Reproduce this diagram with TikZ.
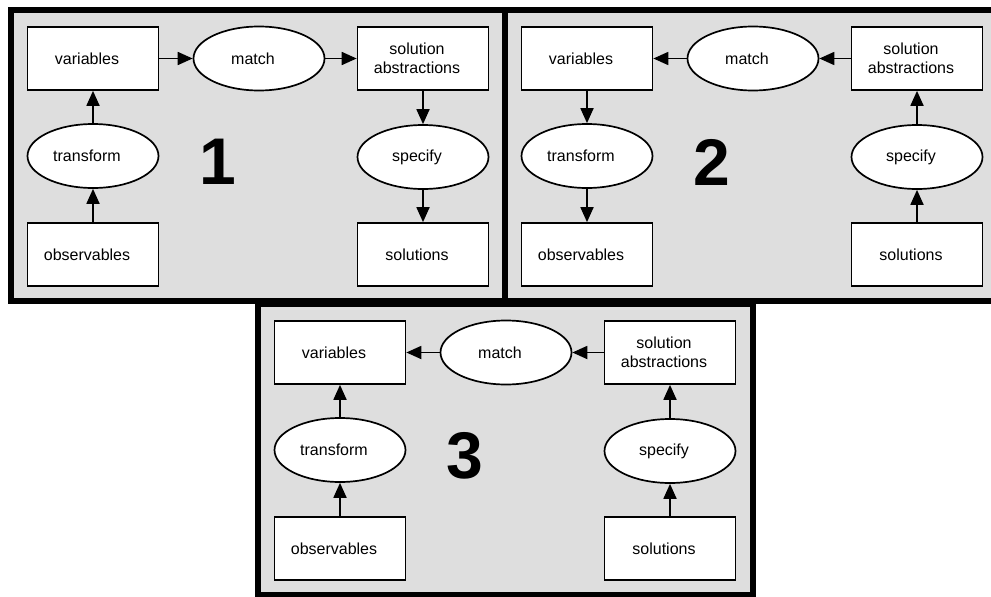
\documentclass[tikz,border=0pt]{standalone}
\usepackage{fontspec}
\setmainfont{Liberation Sans}
\usetikzlibrary{shapes.geometric,arrows.meta}
\newcommand{\tsh}{\hspace*{-12pt}}
\definecolor{panelbg}{RGB}{222,222,222}
\begin{document}
\begin{tikzpicture}[x=1pt,y=-1pt,
  frame/.style={draw=black,line width=6.5pt,fill=panelbg},
  boxnode/.style={draw,line width=1.7pt,fill=white,minimum width=131pt,minimum height=63pt,
    inner sep=0pt,align=center,font=\fontsize{16}{19}\selectfont},
  ovalnode/.style={ellipse,draw,line width=1.7pt,fill=white,minimum width=131pt,minimum height=64pt,
    inner sep=0pt,align=center,font=\fontsize{16}{19}\selectfont},
  bignum/.style={font=\fontsize{66}{66}\selectfont\bfseries,inner sep=0pt},
  flow/.style={line width=1.8pt,-{Triangle[length=15pt,width=13pt]}}]
\useasboundingbox (0,0) rectangle (991,597);

% panel 1
\begin{scope}
  \path[frame] (11,10) rectangle (506,301);
  \node[boxnode]  (v1) at (93,58.5)   {\tsh variables};
  \node[ovalnode] (m1) at (259,58.5)  {\tsh match};
  \node[boxnode]  (a1) at (423,58.5)  {\tsh solution\\\tsh abstractions};
  \node[ovalnode] (t1) at (93,156)    {\tsh transform};
  \node[ovalnode] (p1) at (423,157)   {\tsh specify};
  \node[boxnode]  (o1) at (93,254.5)  {\tsh observables};
  \node[boxnode]  (s1) at (423,254.5) {\tsh solutions};
  \node[bignum]   (n1) at (218,162)   {1};
  \draw[flow] (v1) -- (m1);
  \draw[flow] (m1) -- (a1);
  \draw[flow] (a1) -- (p1);
  \draw[flow] (p1) -- (s1);
  \draw[flow] (o1) -- (t1);
  \draw[flow] (t1) -- (v1);
\end{scope}

% panel 2
\begin{scope}[shift={(494,0)}]
  \path[frame] (11,10) rectangle (506,301);
  \node[boxnode]  (v2) at (93,58.5)   {\tsh variables};
  \node[ovalnode] (m2) at (259,58.5)  {\tsh match};
  \node[boxnode]  (a2) at (423,58.5)  {\tsh solution\\\tsh abstractions};
  \node[ovalnode] (t2) at (93,156)    {\tsh transform};
  \node[ovalnode] (p2) at (423,157)   {\tsh specify};
  \node[boxnode]  (o2) at (93,254.5)  {\tsh observables};
  \node[boxnode]  (s2) at (423,254.5) {\tsh solutions};
  \node[bignum]   (n2) at (218,162)   {2};
  \draw[flow] (m2) -- (v2);
  \draw[flow] (a2) -- (m2);
  \draw[flow] (v2) -- (t2);
  \draw[flow] (t2) -- (o2);
  \draw[flow] (s2) -- (p2);
  \draw[flow] (p2) -- (a2);
\end{scope}

% panel 3
\begin{scope}[shift={(247,294)}]
  \path[frame] (11,10) rectangle (506,301);
  \node[boxnode]  (v3) at (93,58.5)   {\tsh variables};
  \node[ovalnode] (m3) at (259,58.5)  {\tsh match};
  \node[boxnode]  (a3) at (423,58.5)  {\tsh solution\\\tsh abstractions};
  \node[ovalnode] (t3) at (93,156)    {\tsh transform};
  \node[ovalnode] (p3) at (423,157)   {\tsh specify};
  \node[boxnode]  (o3) at (93,254.5)  {\tsh observables};
  \node[boxnode]  (s3) at (423,254.5) {\tsh solutions};
  \node[bignum]   (n3) at (218,162)   {3};
  \draw[flow] (m3) -- (v3);
  \draw[flow] (a3) -- (m3);
  \draw[flow] (o3) -- (t3);
  \draw[flow] (t3) -- (v3);
  \draw[flow] (s3) -- (p3);
  \draw[flow] (p3) -- (a3);
\end{scope}
\end{tikzpicture}
\end{document}
